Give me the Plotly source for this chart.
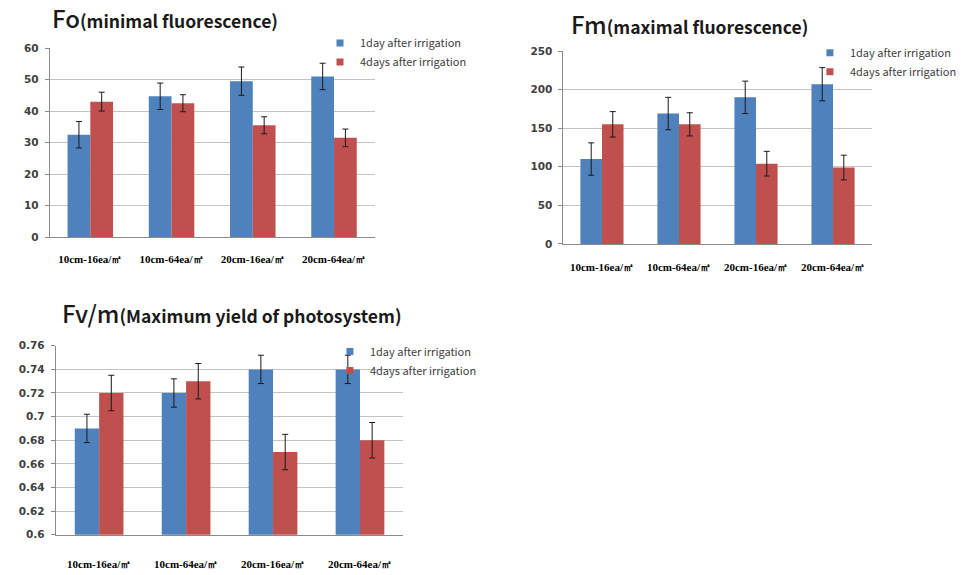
import plotly.graph_objects as go

# ---- data -------------------------------------------------------------
categories = ["10cm-16ea/㎡", "10cm-64ea/㎡", "20cm-16ea/㎡", "20cm-64ea/㎡"]
series_names = ["1day after irrigation", "4days after irrigation"]

fo_1day = [32.5, 44.7, 49.5, 51.0]
fo_1day_err = [4.2, 4.2, 4.5, 4.2]
fo_4days = [43.0, 42.5, 35.5, 31.5]
fo_4days_err = [3.0, 2.7, 2.7, 2.8]

fm_1day = [110, 169, 190, 207]
fm_1day_err = [21, 21, 21, 21.5]
fm_4days = [155, 155, 104, 99]
fm_4days_err = [16.5, 15, 16, 16]

fvm_1day = [0.69, 0.72, 0.74, 0.74]
fvm_1day_err = [0.012, 0.012, 0.012, 0.012]
fvm_4days = [0.72, 0.73, 0.67, 0.68]
fvm_4days_err = [0.015, 0.015, 0.015, 0.015]

fo_ticks = [0, 10, 20, 30, 40, 50, 60]
fm_ticks = [0, 50, 100, 150, 200, 250]
fvm_ticks = [0.6, 0.62, 0.64, 0.66, 0.68, 0.7, 0.72, 0.74, 0.76]
fvm_ticktext = ["0.6", "0.62", "0.64", "0.66", "0.68", "0.7", "0.72", "0.74", "0.76"]

# ---- styling ----------------------------------------------------------
W, H = 962, 575
BLUE = "#4F81BD"
RED = "#C0504D"
GRID = "#c4c4c4"
AXIS = "#8a8a8a"
TXT = "#404040"


def px_x(v):
    return v / W


def px_y(v):
    return 1 - v / H


panels = [
    dict(key="", dom_x=(50, 377), dom_y=(43, 236), vals=(fo_1day, fo_4days),
         errs=(fo_1day_err, fo_4days_err), ticks=fo_ticks, ticktext=None,
         rng=(0, 60), legend="legend", leg_xy=(322, 23), standoff=12),
    dict(key="2", dom_x=(567, 877), dom_y=(46, 243), vals=(fm_1day, fm_4days),
         errs=(fm_1day_err, fm_4days_err), ticks=fm_ticks, ticktext=None,
         rng=(0, 250), legend="legend2", leg_xy=(815, 33), standoff=13),
    dict(key="3", dom_x=(56, 406), dom_y=(347, 540), vals=(fvm_1day, fvm_4days),
         errs=(fvm_1day_err, fvm_4days_err), ticks=fvm_ticks, ticktext=fvm_ticktext,
         rng=(0.6, 0.76), legend="legend3", leg_xy=(332, 338), standoff=19),
]

fig = go.Figure()
layout = {}

for p in panels:
    k = p["key"]
    xa, ya = "x" + k, "y" + k
    for name, vals, errs, col in zip(series_names, p["vals"], p["errs"], (BLUE, RED)):
        fig.add_trace(go.Bar(
            x=categories, y=vals, name=name, marker_color=col,
            marker_line_width=0, showlegend=False,
            error_y=dict(type="data", array=errs, color="#1a1a1a",
                         thickness=1, width=3),
            xaxis=xa, yaxis=ya,
        ))
        # legend entry with a small square swatch
        fig.add_trace(go.Scatter(
            x=[None], y=[None], mode="markers", name=name,
            marker=dict(symbol="square", size=7, color=col),
            legend=p["legend"], xaxis=xa, yaxis=ya,
        ))
    layout["xaxis" + k] = dict(
        domain=[px_x(p["dom_x"][0]), px_x(p["dom_x"][1])],
        anchor=ya, showline=True, linecolor=AXIS, linewidth=1,
        ticks="", showgrid=False, zeroline=False, fixedrange=True,
        tickfont=dict(family="Liberation Serif", size=11, color="#000000", weight="bold"),
        ticklabelstandoff=p["standoff"],
    )
    yax = dict(
        domain=[px_y(p["dom_y"][1]), px_y(p["dom_y"][0])],
        anchor=xa, range=list(p["rng"]), tickvals=p["ticks"],
        showline=True, linecolor=AXIS, linewidth=1,
        ticks="outside", ticklen=4, tickcolor=AXIS,
        showgrid=True, gridcolor=GRID, gridwidth=1, zeroline=False,
        tickfont=dict(family="DejaVu Sans", size=10.5, color=TXT, weight="bold"),
        ticklabelstandoff=4,
    )
    if p["ticktext"] is not None:
        yax["ticktext"] = p["ticktext"]
    layout["yaxis" + k] = yax
    layout[p["legend"]] = dict(
        x=px_x(p["leg_xy"][0]), y=px_y(p["leg_xy"][1]),
        xanchor="left", yanchor="top", bgcolor="rgba(0,0,0,0)",
        font=dict(family="Noto Sans CJK KR", size=11, color=TXT),
        itemwidth=30, tracegroupgap=0,
    )

titles = [
    ("Fo", "(minimal fluorescence)", 50, 12),
    ("Fm", "(maximal fluorescence)", 573, 18),
    ("Fv/m", "(Maximum yield of photosystem)", 60, 313),
]
annotations = []
for big, small, x0, yc in titles:
    annotations.append(dict(
        text=f"<span style='font-size:24px;font-weight:500'>{big}</span>"
             f"<span style='font-size:17.5px;font-weight:700'>{small}</span>",
        xref="paper", yref="paper", x=px_x(x0), y=px_y(yc),
        xanchor="left", yanchor="middle", showarrow=False,
        font=dict(family="Noto Sans CJK KR", color="#1a1a1a"),
    ))

fig.update_layout(
    width=W, height=H, margin=dict(l=0, r=0, t=0, b=0),
    paper_bgcolor="white", plot_bgcolor="white",
    barmode="group", bargap=0.44, bargroupgap=0,
    annotations=annotations, **layout,
)

fig.write_html("out.html", config={"displayModeBar": False})
